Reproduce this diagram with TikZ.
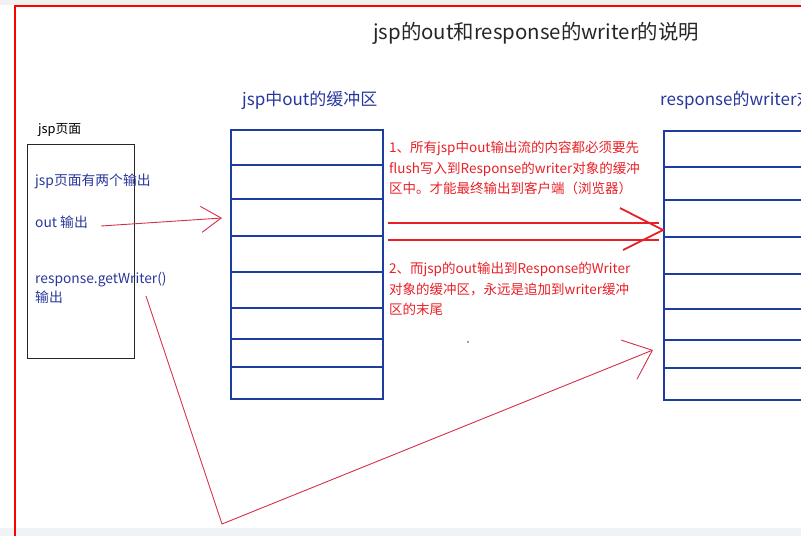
\documentclass[tikz,border=0pt]{standalone}
\usepackage{fontspec}
\usepackage{xcolor}
\setmainfont{Noto Sans CJK SC}
\usetikzlibrary{arrows.meta,positioning}

\definecolor{bufblue}{RGB}{30,60,160}
\definecolor{txtblue}{RGB}{40,55,155}
\definecolor{noteRed}{RGB}{232,32,38}
\definecolor{penRed}{RGB}{214,48,72}
\definecolor{bandgray}{RGB}{240,243,246}

\begin{document}
\begin{tikzpicture}[x=1pt, y=-1pt,
    buffer/.style={rectangle, draw=bufblue, line width=2.2pt, anchor=north west, inner sep=0pt},
    divider/.style={draw=bufblue, line width=2.2pt},
    pagebox/.style={rectangle, draw=black!85, line width=1.1pt, anchor=north west, inner sep=0pt},
    bluetext/.style={anchor=west, inner sep=0pt, text=txtblue, font=\fontsize{13.8}{19.5}\selectfont, align=left},
    notetext/.style={anchor=north west, inner sep=0pt, text=noteRed, font=\fontsize{13.5}{20.5}\selectfont, align=left},
    penarrow/.style={draw=penRed, line width=0.9pt, -{Straight Barb[length=20pt, width=26pt, line width=0.9pt]}},
    flowline/.style={draw=noteRed, line width=1.8pt}
]
\useasboundingbox (0,0) rectangle (801,536);

% frame
\fill[black!6] (0,0) rectangle (801,5);
\fill[bandgray] (0,528) rectangle (801,536);
\draw[red, line width=2pt] (15,536) -- (15,6) -- (801,6);

% title
\node[anchor=west, inner sep=0pt, text=black!85, font=\fontsize{20.4}{24}\selectfont] (title) at (373,33) {jsp的out和response的writer的说明};

% jsp page
\node[anchor=west, inner sep=0pt, font=\fontsize{12.8}{15}\selectfont] (pagename) at (38,130) {jsp页面};
\node[pagebox, minimum width=107pt, minimum height=214pt] (jsppage) at (27,144) {};
\node[bluetext] (twoout) at (35,181) {jsp页面有两个输出};
\node[bluetext] (outlbl) at (35,222) {out 输出};
\node[bluetext, anchor=north west] (getw) at (35,272) {response.getWriter()\\输出};

% out buffer
\node[anchor=west, inner sep=0pt, text=txtblue, font=\fontsize{17}{20}\selectfont] (outname) at (242,100) {jsp中out的缓冲区};
\node[buffer, minimum width=152pt, minimum height=269pt] (outbuf) at (230,129) {};
\draw[divider] (230,165) -- (382,165);
\draw[divider] (230,199) -- (382,199);
\draw[divider] (230,236) -- (382,236);
\draw[divider] (230,272) -- (382,272);
\draw[divider] (230,308) -- (382,308);
\draw[divider] (230,339) -- (382,339);
\draw[divider] (230,367) -- (382,367);

% writer buffer
\node[anchor=west, inner sep=0pt, text=txtblue, font=\fontsize{17}{20}\selectfont] (writername) at (660,100) {response的writer对象的缓冲区};
\node[buffer, minimum width=160pt, minimum height=269pt] (writerbuf) at (663,130) {};
\draw[divider] (663,167) -- (823,167);
\draw[divider] (663,200) -- (823,200);
\draw[divider] (663,237) -- (823,237);
\draw[divider] (663,274) -- (823,274);
\draw[divider] (663,309) -- (823,309);
\draw[divider] (663,340) -- (823,340);
\draw[divider] (663,368) -- (823,368);

% notes
\node[notetext] (noteone) at (389,141) {1、所有jsp中out输出流的内容都必须要先\\flush写入到Response的writer对象的缓冲\\区中。才能最终输出到客户端（浏览器）};
\node[notetext] (notetwo) at (389,262) {2、而jsp的out输出到Response的Writer\\对象的缓冲区，永远是追加到writer缓冲\\区的末尾};
\fill[bufblue] (468,342) circle (0.9pt);

% flush arrow
\coordinate (headtip) at (663,230);
\coordinate (headup) at (620,208);
\coordinate (headdown) at (623,250);
\draw[flowline] ([xshift=4pt]outbuf.east |- 0,223) -- ([xshift=-4pt]writerbuf.west |- 0,223);
\draw[flowline] ([xshift=4pt]outbuf.east |- 0,240) -- ([xshift=-4pt]writerbuf.west |- 0,240);
\draw[flowline] (headup) -- (headtip) -- (headdown);

% pen arrows
\coordinate (outtip) at (222,218);
\coordinate (getwstart) at (146,296);
\coordinate (bend) at (222,524);
\coordinate (writertip) at (653,350);
\draw[penarrow] ([xshift=13pt]outlbl.east |- 0,226) -- (outtip);
\draw[penarrow, -{Straight Barb[length=25pt, width=42pt, line width=0.9pt]}] (getwstart) -- (bend) -- (writertip);

\end{tikzpicture}
\end{document}
